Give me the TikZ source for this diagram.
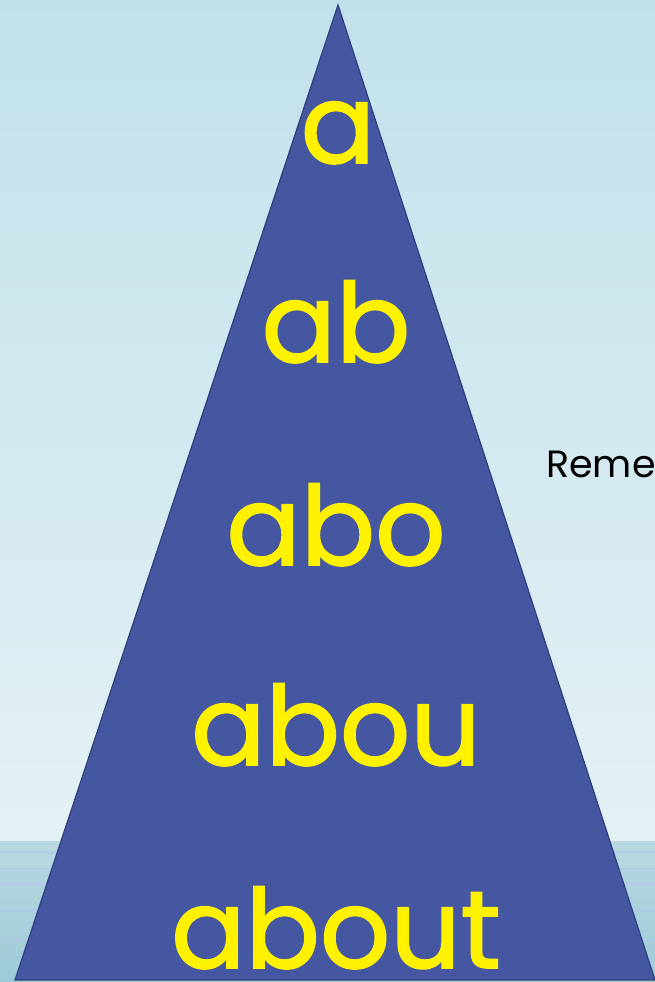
\documentclass[tikz,border=0pt]{standalone}
\usepackage{fontspec}
\setmainfont{Poppins}
\newfontfamily\wordfont[FakeBold=1.6]{Poppins}
\definecolor{skytop}{HTML}{C1E1EA}
\definecolor{skylow}{HTML}{E4F1F5}
\definecolor{seatop}{HTML}{B8D9E1}
\definecolor{sealow}{HTML}{9CCBD8}
\definecolor{pyr}{HTML}{4457A0}
\definecolor{pyredge}{HTML}{2F3F7E}
\tikzset{word/.style={text=yellow,anchor=base,inner sep=0pt,font=\wordfont\fontsize{110}{110}\selectfont}}
\begin{document}
\begin{tikzpicture}[x=1pt,y=1pt]
    \useasboundingbox (0,0) rectangle (655,982);
    \clip (0,0) rectangle (655,982);
    % sky and sea
    \shade[top color=skytop,bottom color=skylow] (0,140) rectangle (655,982);
    \shade[top color=seatop,bottom color=sealow] (0,0) rectangle (655,140);
    \foreach \y/\w in {128/3,112/2,96/4,70/2,40/3}
        \fill[sealow!80!blue!60!white,opacity=0.5] (0,\y) rectangle (655,\y+\w);
    \node[anchor=base west,inner sep=0pt,font=\fontsize{38}{38}\selectfont] (note) at (546,504) {Reme};
    % the pyramid
    \coordinate (top) at (338,977);
    \coordinate (left) at (15,2);
    \coordinate (right) at (655,2);
    \draw[fill=pyr,draw=pyredge,line width=1.2pt] (left) -- (top) -- (right) -- cycle;
    \node[word] (w1) at (338,819) {a};
    \node[word] (w2) at (336,620) {ab};
    \node[word] (w3) at (336,417) {abo};
    \node[word] (w4) at (336,217) {abou};
    \node[word] (w5) at (336,14) {about};
\end{tikzpicture}
\end{document}
